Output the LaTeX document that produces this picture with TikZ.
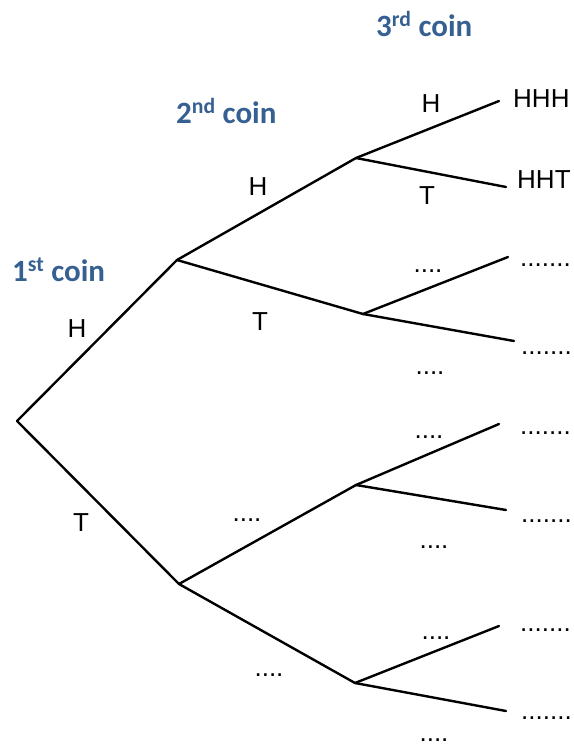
\documentclass[tikz,border=0pt]{standalone}
\usepackage{fontspec}
\setmainfont{Liberation Sans}
\newfontfamily\coinfont{Carlito}
\definecolor{coinblue}{RGB}{55,96,146}
\begin{document}
\begin{tikzpicture}[x=1pt,y=-1pt,
  branch/.style={line width=2.4pt, line cap=round},
  lab/.style={anchor=base, inner sep=0pt, text depth=0pt, font=\fontsize{26}{30}\selectfont},
  leaf/.style={anchor=base west, inner sep=0pt, text depth=0pt, font=\fontsize{26}{30}\selectfont},
  coin/.style={anchor=base west, inner sep=0pt, text=coinblue, font=\coinfont\bfseries\fontsize{31}{34}\selectfont}]
\useasboundingbox (0,0) rectangle (573,744);
% junctions
\coordinate (r) at (17,421);
\coordinate (a) at (177,260);
\coordinate (b) at (179,584);
\coordinate (aa) at (356,158);
\coordinate (ab) at (363,314);
\coordinate (ba) at (356,485);
\coordinate (bb) at (355,683);
\coordinate (l1) at (499,101);
\coordinate (l2) at (506,187);
\coordinate (l3) at (508,257);
\coordinate (l4) at (514,341);
\coordinate (l5) at (499,424);
\coordinate (l6) at (506,510);
\coordinate (l7) at (499,626);
\coordinate (l8) at (506,711);
% branches
\draw[branch] (r) -- (a);
\draw[branch] (r) -- (b);
\draw[branch] (a) -- (aa);
\draw[branch] (a) -- (ab);
\draw[branch] (b) -- (ba);
\draw[branch] (b) -- (bb);
\draw[branch] (aa) -- (l1);
\draw[branch] (aa) -- (l2);
\draw[branch] (ab) -- (l3);
\draw[branch] (ab) -- (l4);
\draw[branch] (ba) -- (l5);
\draw[branch] (ba) -- (l6);
\draw[branch] (bb) -- (l7);
\draw[branch] (bb) -- (l8);
% headings
\node[coin] (c1) at (12,281) {1\textsuperscript{st} coin};
\node[coin] (c2) at (176,123) {2\textsuperscript{nd} coin};
\node[coin] (c3) at (376,36) {3\textsuperscript{rd} coin};
% first level labels
\node[lab] (t1h) at (77,337) {H};
\node[lab] (t1t) at (81,531) {T};
% second level labels
\node[lab] (t2h) at (258,195) {H};
\node[lab] (t2t) at (260,330) {T};
\node[lab] (t2c) at (247,521) {....};
\node[lab] (t2d) at (269,676) {....};
% third level labels
\node[lab] (t3a) at (431,112) {H};
\node[lab] (t3b) at (427,204) {T};
\node[lab] (t3c) at (428,272) {....};
\node[lab] (t3d) at (430,374) {....};
\node[lab] (t3e) at (429,438) {....};
\node[lab] (t3f) at (434,548) {....};
\node[lab] (t3g) at (436,639) {....};
\node[lab] (t3h) at (434,741) {....};
% outcomes
\node[leaf] (o1) at (513,107) {HHH};
\node[leaf] (o2) at (517,188) {HHT};
\node[leaf] (o3) at (520,266) {.......};
\node[leaf] (o4) at (521,354) {.......};
\node[leaf] (o5) at (520,434) {.......};
\node[leaf] (o6) at (521,522) {.......};
\node[leaf] (o7) at (520,631) {.......};
\node[leaf] (o8) at (521,719) {.......};
\end{tikzpicture}
\end{document}
